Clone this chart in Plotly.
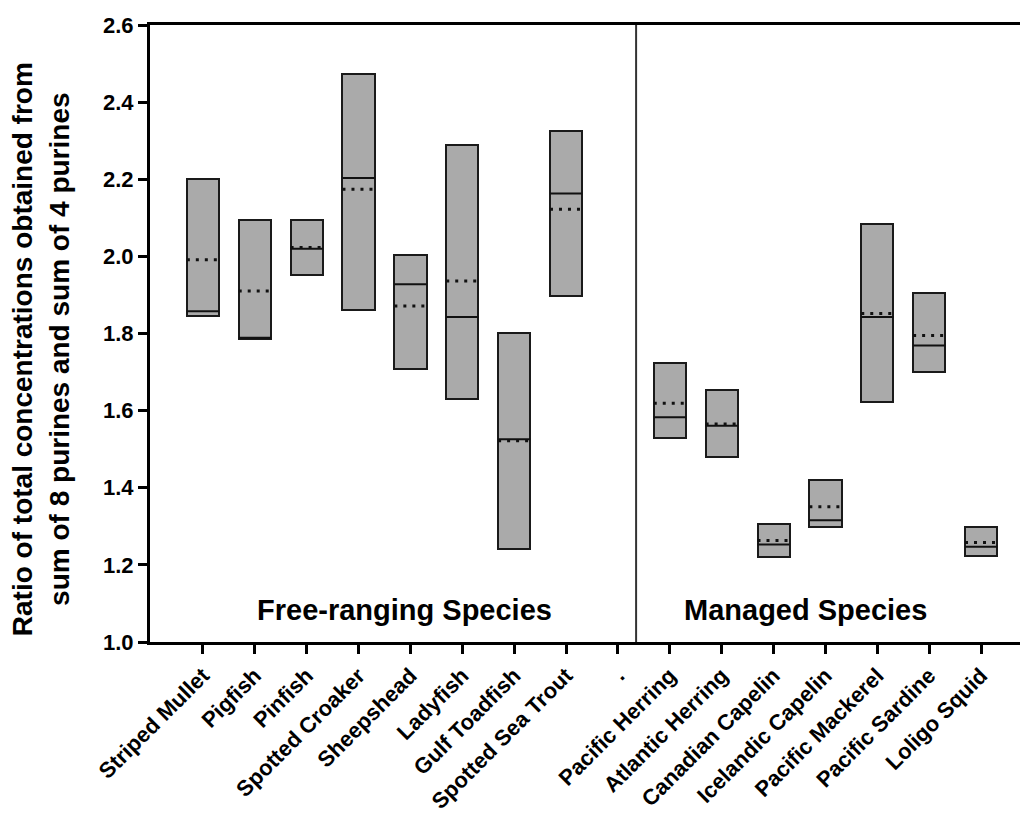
import plotly.graph_objects as go

# Species on the x axis ("." is the empty spacer between the two groups)
species = ["Striped Mullet", "Pigfish", "Pinfish", "Spotted Croaker", "Sheepshead",
           "Ladyfish", "Gulf Toadfish", "Spotted Sea Trout", ".",
           "Pacific Herring", "Atlantic Herring", "Canadian Capelin", "Icelandic Capelin",
           "Pacific Mackerel", "Pacific Sardine", "Loligo Squid"]

# Range (low/high), median and mean of the ratio for each species
low    = [1.845, 1.786, 1.953, 1.860, 1.708, 1.629, 1.240, 1.897, None,
          1.530, 1.481, 1.221, 1.299, 1.623, 1.699, 1.222]
high   = [2.200, 2.094, 2.094, 2.473, 2.004, 2.289, 1.801, 2.326, None,
          1.724, 1.654, 1.307, 1.419, 2.085, 1.905, 1.297]
median = [1.858, 1.789, 2.020, 2.203, 1.928, 1.843, 1.526, 2.163, None,
          1.583, 1.561, 1.253, 1.316, 1.843, 1.769, 1.247]
mean   = [1.991, 1.910, 2.023, 2.174, 1.871, 1.936, 1.522, 2.122, None,
          1.619, 1.565, 1.263, 1.351, 1.852, 1.795, 1.258]

y_ticks = [1.0, 1.2, 1.4, 1.6, 1.8, 2.0, 2.2, 2.4, 2.6]

FONT = "Liberation Sans, Arial, sans-serif"
BAR_W = 0.62
idx = list(range(len(species)))

fig = go.Figure()

# floating range boxes
bx, by, bb = [], [], []
for i, lo, hi in zip(idx, low, high):
    if lo is None:
        continue
    bx.append(i)
    by.append(hi - lo)
    bb.append(lo)
fig.add_trace(go.Bar(x=bx, y=by, base=bb, width=BAR_W,
                     marker=dict(color="#aaaaaa", line=dict(color="#1a1a1a", width=2)),
                     showlegend=False, hoverinfo="skip"))


def segments(values):
    xs, ys = [], []
    for i, v in zip(idx, values):
        if v is None:
            continue
        xs += [i - BAR_W / 2, i + BAR_W / 2, None]
        ys += [v, v, None]
    return xs, ys


mx, my = segments(median)
fig.add_trace(go.Scatter(x=mx, y=my, mode="lines",
                         line=dict(color="#111111", width=2),
                         showlegend=False, hoverinfo="skip"))
ax, ay = segments(mean)
fig.add_trace(go.Scatter(x=ax, y=ay, mode="lines",
                         line=dict(color="#111111", width=3, dash="3px,6px"),
                         showlegend=False, hoverinfo="skip"))

# divider between free-ranging and managed groups
fig.add_shape(type="line", x0=8.35, x1=8.35, y0=1.0, y1=2.6, xref="x", yref="y",
              line=dict(color="#333333", width=2))

fig.add_annotation(x=3.89, y=1.083, text="Free-ranging Species", showarrow=False,
                   font=dict(family=FONT, size=29, color="black", weight="bold"))
fig.add_annotation(x=11.61, y=1.083, text="Managed Species", showarrow=False,
                   font=dict(family=FONT, size=29, color="black", weight="bold"))

# y-axis title, placed as a rotated annotation left of the tick labels
fig.add_annotation(xref="paper", yref="paper", x=-0.125, y=0.475,
                   xanchor="center", yanchor="middle", textangle=-90, showarrow=False,
                   text="Ratio of total concentrations obtained from<br>sum of 8 purines and sum of 4 purines",
                   font=dict(family=FONT, size=28, color="black", weight="bold"))

fig.update_xaxes(range=[-1.02, 15.75], tickmode="array", tickvals=idx, ticktext=species,
                 tickangle=-45, ticks="outside", ticklen=9, tickwidth=3, tickcolor="black",
                 showline=True, linewidth=3, linecolor="black", mirror=True,
                 showgrid=False, zeroline=False, automargin=False,
                 tickfont=dict(family=FONT, size=22, color="black", weight="bold"))
fig.update_yaxes(range=[1.0, 2.6], tickmode="array", tickvals=y_ticks,
                 ticktext=[f"{v:.1f}" for v in y_ticks],
                 ticks="outside", ticklen=9, tickwidth=3, tickcolor="black",
                 showline=True, linewidth=3, linecolor="black",
                 showgrid=False, zeroline=False, automargin=False,
                 tickfont=dict(family=FONT, size=22, color="black", weight="bold"))

fig.update_layout(width=1020, height=821, margin=dict(l=150, r=0, t=25, b=179),
                  plot_bgcolor="white", paper_bgcolor="white", bargap=0)

fig.write_html("out.html")
